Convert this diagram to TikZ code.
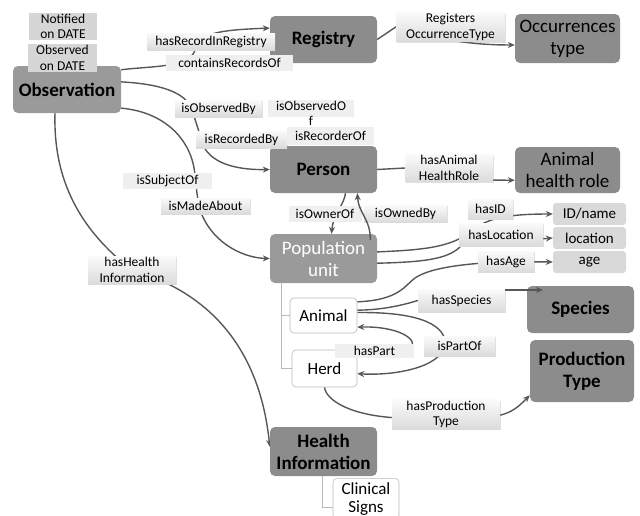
\documentclass[tikz,border=0pt]{standalone}
\usepackage{fontspec}
\setmainfont{Carlito}
\usetikzlibrary{arrows.meta,shadows,backgrounds}
\definecolor{darkg}{HTML}{8C8C8C}
\definecolor{midg}{HTML}{9A9A9A}
\definecolor{edgec}{HTML}{575757}
\definecolor{noteg}{HTML}{D6D6D6}
\definecolor{attrg}{HTML}{D9D9D9}
\definecolor{flatg}{HTML}{EFEFEF}
\begin{document}
\begin{tikzpicture}[x=1pt,y=-1pt,
  bignode/.style={rectangle,rounded corners=5pt,fill=darkg,inner sep=1pt,align=center,font=\fontsize{19}{22}\selectfont},
  boldnode/.style={bignode,font=\bfseries\fontsize{19}{22}\selectfont},
  popnode/.style={bignode,fill=midg,text=white},
  wnode/.style={rectangle,rounded corners=4pt,draw=gray!55,line width=0.6pt,fill=white,inner sep=1pt,align=center,font=\fontsize{17}{19}\selectfont},
  attr/.style={rectangle,rounded corners=3pt,fill=attrg,inner sep=1pt,font=\fontsize{15}{17}\selectfont},
  note/.style={rectangle,fill=noteg,inner sep=1pt,align=center,font=\fontsize{13.5}{15.5}\selectfont},
  lab/.style={rectangle,top color=gray!4,bottom color=gray!28,inner sep=1pt,align=center,
    drop shadow={opacity=0.25,shadow xshift=1pt,shadow yshift=-1.2pt},font=\fontsize{13.5}{15.5}\selectfont},
  flab/.style={rectangle,fill=flatg,inner sep=1pt,align=center,font=\fontsize{13.5}{15.5}\selectfont},
  edge/.style={draw=edgec,line width=1.4pt},
  arr/.style={edge,-{Stealth[length=7pt,width=6pt]}},
  tree/.style={draw=gray!55,line width=0.8pt}]
\useasboundingbox (0,0) rectangle (640,515);

% main nodes
\node[boldnode,fill=midg,minimum width=108pt,minimum height=47pt] (observation) at (67,89.5) {Observation};
\node[note,minimum width=68pt,minimum height=27pt] (notified) at (63,26.5) {Notified\\on DATE};
\node[note,minimum width=69pt,minimum height=28pt] (observedon) at (62.5,58) {Observed\\on DATE};
\node[boldnode,minimum width=107pt,minimum height=47pt] (registry) at (323.5,39.5) {Registry};
\node[bignode,minimum width=105pt,minimum height=49pt] (occtype) at (567.5,38.5) {Occurrences\\type};
\node[boldnode,minimum width=107pt,minimum height=47pt] (person) at (323.5,169.5) {Person};
\node[bignode,minimum width=105pt,minimum height=46pt] (ahrole) at (567.5,170) {Animal\\health role};
\node[popnode,minimum width=107pt,minimum height=49pt] (popunit) at (323.5,258.5) {Population\\unit};
\node[attr,minimum width=73pt,minimum height=22pt] (idname) at (589.5,214) {ID/name};
\node[attr,minimum width=73pt,minimum height=22pt] (location) at (589.5,238) {location};
\node[attr,minimum width=73pt,minimum height=22pt] (age) at (589.5,262) {age};
\node[wnode,minimum width=67pt,minimum height=35pt] (animal) at (323.5,315.5) {Animal};
\node[wnode,minimum width=65pt,minimum height=37pt] (herd) at (324.5,368.5) {Herd};
\node[boldnode,minimum width=107pt,minimum height=47pt] (species) at (580.5,309.5) {Species};
\node[boldnode,minimum width=104pt,minimum height=62pt] (prodtype) at (582,371) {Production\\Type};
\node[boldnode,minimum width=107pt,minimum height=49pt] (healthinfo) at (323.5,451.5) {Health\\Information};
\node[wnode,minimum width=66pt,minimum height=41pt,anchor=north,font=\fontsize{17}{18}\selectfont] (clinical) at (366,478) {Clinical\\Signs};

% labels
\node[lab,minimum width=128pt,minimum height=17pt] (hasRecord) at (211,41.5) {hasRecordInRegistry};
\node[flab,minimum width=127pt,minimum height=16pt] (contains) at (229.5,63) {containsRecordsOf};
\node[lab,minimum width=109pt,minimum height=26pt] (registers) at (450.5,27) {Registers\\OccurrenceType};
\node[lab,minimum width=87pt,minimum height=17pt] (isObservedBy) at (218.5,108.5) {isObservedBy};
\node[flab,minimum width=86pt,minimum height=17pt,anchor=north] at (311,100) {};
\node[font=\fontsize{13.5}{15}\selectfont,inner sep=0pt,align=center] (isObservedOf) at (311,113) {isObservedO\\f};
\node[lab,minimum width=91pt,minimum height=17pt] (isRecordedBy) at (241.5,139.5) {isRecordedBy};
\node[flab,minimum width=87pt,minimum height=18pt] (isRecorderOf) at (330.5,135.5) {isRecorderOf};
\node[flab,minimum width=89pt,minimum height=16pt] (isSubjectOf) at (167.5,181) {isSubjectOf};
\node[lab,minimum width=89pt,minimum height=16pt] (isMadeAbout) at (205.5,206) {isMadeAbout};
\node[flab,minimum width=73pt,minimum height=16pt] (isOwnerOf) at (325,214) {isOwnerOf};
\node[lab,minimum width=83pt,minimum height=17pt] (isOwnedBy) at (405.5,213.5) {isOwnedBy};
\node[lab,minimum width=88pt,minimum height=26pt] (hasAHR) at (449,168) {hasAnimal\\HealthRole};
\node[lab,minimum width=45pt,minimum height=20pt] (hasID) at (490.5,209) {hasID};
\node[lab,minimum width=84pt,minimum height=23pt] (hasLocation) at (501,234.5) {hasLocation};
\node[lab,minimum width=56pt,minimum height=21pt] (hasAge) at (506,261.5) {hasAge};
\node[lab,minimum width=87pt,minimum height=23pt] (hasSpecies) at (461.5,300.5) {hasSpecies};
\node[lab,minimum width=71pt,minimum height=20pt] (isPartOf) at (459.5,346) {isPartOf};
\node[flab,minimum width=79pt,minimum height=14pt] (hasPart) at (374.5,351) {hasPart};
\node[lab,minimum width=108pt,minimum height=27pt] (hasProd) at (446,414.5) {hasProduction\\Type};
\node[lab,minimum width=88pt,minimum height=28pt] (hasHealth) at (132,270) {hasHealth\\Information};

\begin{scope}[on background layer]
% tree lines
\draw[tree] (281,283) -- (281,368.5) -- (herd.west);
\draw[tree] (281,315.5) -- (animal.west);
\draw[tree] (322,476) -- (322,507) -- (clinical.west |- 0,507);
% Observation -> Registry
\draw[arr] (observation.20) .. controls (150,66) and (190,68) .. (195,50)
  .. controls (199,34) and (215,30) .. (registry.168);
% Registry -> Occurrences type
\draw[arr] (registry.east) -- (registers.west) .. controls (450,44) and (490,45) .. (occtype.187);
% Observation -> Person
\draw[arr] (observation.8) .. controls (160,84) and (186,92) .. (192,110)
  .. controls (197,125) and (200,135) .. (203,145)
  .. controls (212,165) and (240,170) .. (person.west);
% Observation -> Population unit
\draw[arr] (observation.-19) .. controls (165,112) and (192,140) .. (195,175)
  .. controls (197,195) and (198,205) .. (202,215)
  .. controls (215,245) and (245,258) .. (popunit.west);
% Observation -> Health Information
\draw[arr] ([xshift=-12pt]observation.south) .. controls (53,180) and (80,230) .. (hasHealth.center)
  .. controls (235,300) and (263,380) .. (healthinfo.175);
% Person -> Animal health role
\draw[arr] (person.east) -- (hasAHR.west) .. controls (440,178) .. (470,180) -- (ahrole.191);
% isOwnerOf
\draw[arr] ([xshift=22pt]person.south) .. controls (344,205) and (333,215) .. ([xshift=8pt]popunit.north);
% Population unit -> ID/name
\draw[arr] (popunit.7) .. controls (420,250) and (450,248) .. (470,232)
  .. controls (485,220) and (500,214) .. (idname.west);
% Population unit -> location
\draw[arr] (popunit.-5) .. controls (430,262) and (450,258) .. (462,245) -- (location.west);
% Animal -> age
\draw[arr] (animal.22) .. controls (400,300) and (405,285) .. (415,278)
  .. controls (430,268) and (460,264) .. (hasAge.center) -- (age.west);
% Animal -> isPartOf -> Herd
\draw[arr] (animal.5) .. controls (400,312) and (440,318) .. (445,340)
  .. controls (448,365) and (400,376) .. (herd.-9);
% Herd -> hasPart -> Animal
\draw[arr] (herd.28) -- (410,352) .. controls (422,338) and (395,326) .. (animal.-19);
% Herd -> Production type
\draw[arr] (herd.south) .. controls (326,400) and (350,416) .. (400,418) -- (495,416)
  .. controls (512,414) and (520,405) .. (prodtype.205);
% Animal -> Species (first part)
\draw[edge] (animal.9) .. controls (380,310) and (400,306) .. (hasSpecies.west);
\end{scope}

% connectors drawn above boxes
\draw[arr] ([xshift=-7pt,yshift=-6pt]popunit.north east) .. controls (371,220) and (358,212) .. ([xshift=34pt]person.south);
\draw[arr] (hasSpecies.north east |- 0,290) -- (543,290);
\end{tikzpicture}
\end{document}
